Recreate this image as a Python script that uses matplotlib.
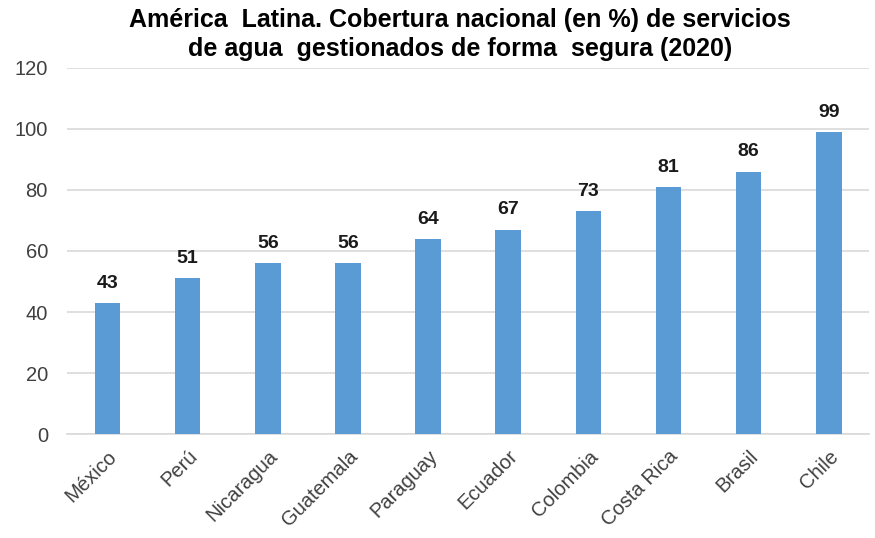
import matplotlib.pyplot as plt
import numpy as np

paises = ["México", "Perú", "Nicaragua", "Guatemala", "Paraguay",
          "Ecuador", "Colombia", "Costa Rica", "Brasil", "Chile"]
cobertura = [43, 51, 56, 56, 64, 67, 73, 81, 86, 99]

plt.rcParams['font.family'] = ['Liberation Sans', 'DejaVu Sans']

fig = plt.figure(figsize=(8.75, 5.38), dpi=100)
ax = fig.add_axes([0.077, 0.193, 0.916, 0.681])

x = np.arange(len(paises))
ax.bar(x, cobertura, width=0.32, color="#5B9BD5", zorder=3)

for xi, v in zip(x, cobertura):
    ax.annotate(str(v), (xi, v), xytext=(0, 8), textcoords="offset points",
                ha="center", va="bottom", fontsize=14, fontweight="bold",
                color="#1a1a1a")

ax.set_xlim(-0.5, len(paises) - 0.5)
ax.set_ylim(0, 120)
ax.set_yticks(np.arange(0, 121, 20))
ax.yaxis.grid(True, color="#d9d9d9", linewidth=1.2, zorder=0)
ax.set_axisbelow(True)

ax.set_xticks(x)
ax.set_xticklabels(paises, rotation=45, ha="right", rotation_mode="anchor",
                   fontsize=14.5, color="#404040")
ax.tick_params(axis="y", labelsize=14.5, labelcolor="#404040", length=0, pad=14)
ax.tick_params(axis="x", length=0, pad=9)

for s in ["top", "right", "left"]:
    ax.spines[s].set_visible(False)
ax.spines["bottom"].set_color("#d9d9d9")
ax.spines["bottom"].set_linewidth(1.2)

fig.text(0.526, 0.985, "América  Latina. Cobertura nacional (en %) de servicios\nde agua  gestionados de forma  segura (2020)",
         ha="center", va="top", fontsize=18, fontweight="bold", linespacing=1.25,
         color="black")

fig.savefig("out.png", dpi=100)
